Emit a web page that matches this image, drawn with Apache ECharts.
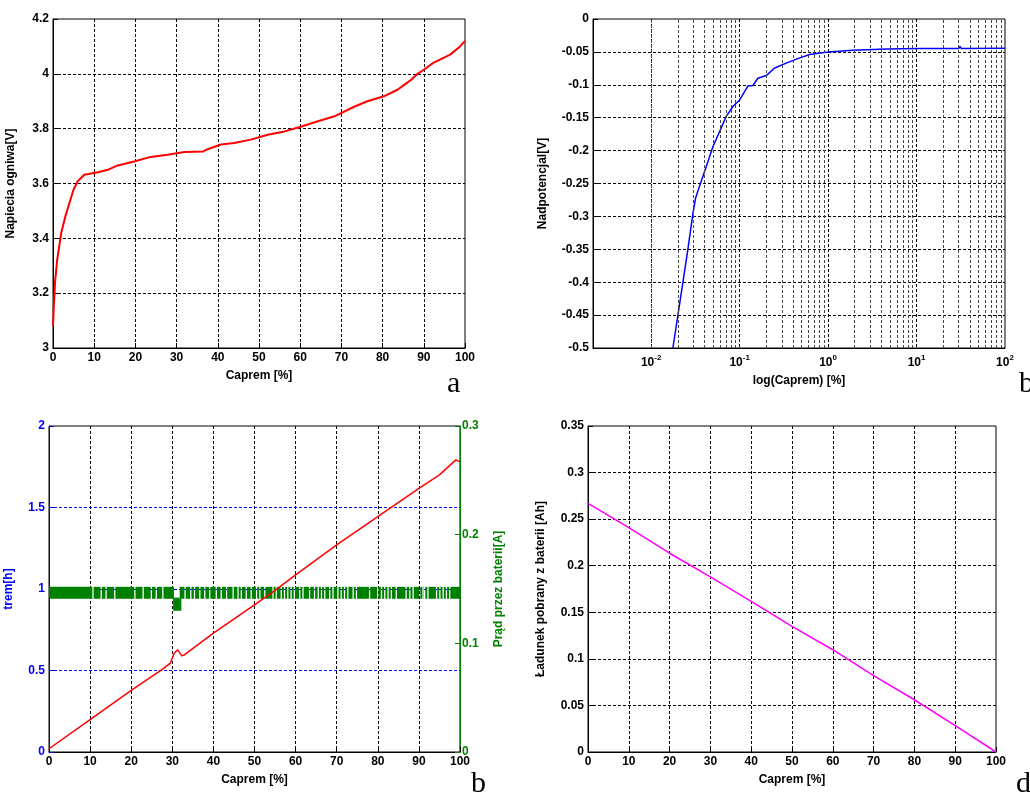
<!DOCTYPE html>
<html>
<head>
    <meta charset="UTF-8">
    <title>Caprem</title>
    <script src="https://cdn.jsdelivr.net/npm/echarts@6/dist/echarts.min.js"></script>
    <style>
        body, html {
            margin: 0;
            padding: 0;
            height: 100%;
            width: 100%;
            background: #fff;
        }
        #main {
            width: 1030px;
            height: 800px;
        }
    </style>
</head>
<body>
<div id="main"></div>
<script>
    // a: napiecie ogniwa vs Caprem
    var aX = [0, 0.2, 0.5, 1, 2, 3, 4, 5, 6, 7.6, 10.9, 13.3, 15.7, 19.7, 23.7, 27.8, 31.9, 36.5, 37.5, 40.8, 44, 48, 52.1, 56.2, 60.3, 64.3, 68.3, 73.1, 76.3, 80.3, 83.6, 85, 87, 88.5, 90, 92.3, 96.4, 98.8, 100];
    var aV = [3.08, 3.15, 3.24, 3.32, 3.42, 3.48, 3.53, 3.578, 3.608, 3.632, 3.641, 3.65, 3.666, 3.68, 3.697, 3.705, 3.715, 3.717, 3.725, 3.742, 3.748, 3.76, 3.778, 3.79, 3.808, 3.827, 3.845, 3.88, 3.9, 3.918, 3.942, 3.957, 3.979, 4.0, 4.015, 4.04, 4.07, 4.1, 4.12];

    // b: nadpotencjal vs log(Caprem)
    var bX = [0.0176, 0.0228, 0.026, 0.0297, 0.0318, 0.0352, 0.042, 0.0499, 0.0594, 0.0706, 0.084, 0.1, 0.124, 0.1415, 0.161, 0.2, 0.249, 0.337, 0.438, 0.62, 1, 1.92, 4.57, 10.9, 30, 31, 32, 100];
    var bV = [-0.5, -0.401, -0.35, -0.295, -0.272, -0.254, -0.224, -0.194, -0.171, -0.148, -0.133, -0.123, -0.102, -0.101, -0.09, -0.086, -0.0745, -0.067, -0.061, -0.054, -0.05, -0.0476, -0.0456, -0.045, -0.0448, -0.0415, -0.0448, -0.0446];
    var bMinorGrid = [0.003, 0.004, 0.005, 0.006, 0.007, 0.008, 0.009,
        0.02, 0.03, 0.04, 0.05, 0.06, 0.07, 0.08, 0.09,
        0.2, 0.3, 0.4, 0.5, 0.6, 0.7, 0.8, 0.9,
        2, 3, 4, 5, 6, 7, 8, 9,
        20, 30, 40, 50, 60, 70, 80, 90];

    // c: trem vs Caprem, prad przez baterii
    var cX = [0, 10, 20, 28, 29.5, 30.5, 31.3, 32.3, 33, 40, 50, 55, 60, 70, 80, 90, 95, 99, 100];
    var cT = [0.02, 0.198, 0.378, 0.515, 0.545, 0.607, 0.627, 0.59, 0.597, 0.729, 0.903, 0.991, 1.087, 1.271, 1.444, 1.618, 1.70, 1.792, 1.78];
    var cGridT = [0.5, 1, 1.5];
    var iLow = 0.141, iHigh = 0.152, iDipLow = 0.130;
    var iDip = [30.2, 32.2];
    var iGaps = [10.7, 12.7, 13.9, 16.0, 20.9, 22.9, 24.9, 26.1, 27.7, 33.1,
        34.5, 35.4, 36.7, 37.9, 39.1, 40.7, 41.9, 43.2, 44.8, 46.0, 46.8, 48.0, 49.2, 50.5, 51.3, 52.5,
        54.5, 55.3, 56.5, 57.3, 58.1, 58.9, 59.7, 61.0, 61.8, 63.4, 64.6, 65.5, 66.3, 67.1, 68.3,
        69.1, 70.3, 71.1, 71.9, 72.7, 74.0, 74.8, 78.0, 80.0, 80.9, 81.7, 82.5, 83.3, 84.5, 86.9,
        87.8, 88.6, 90.2, 91.0, 91.4, 92.2, 94.3, 95.1, 95.9, 96.7, 97.5];
    var iGapUpper = [30.4, 31.8];

    // d: ladunek pobrany vs Caprem
    var dX = [0, 10, 20, 30, 40, 50, 60, 70, 80, 90, 100];
    var dQ = [0.267, 0.241, 0.2134, 0.188, 0.1616, 0.1348, 0.1098, 0.0819, 0.0561, 0.0282, 0];

    function zip(xs, ys) {
        return xs.map(function (x, i) { return [x, ys[i]]; });
    }

    // band segments between gaps: [x0, x1, low, high]
    var gapW = 0.3;
    var bandSegs = [];
    var prev = 0;
    iGaps.forEach(function (g) {
        bandSegs.push([prev, g - gapW / 2, iLow, iHigh]);
        prev = g + gapW / 2;
    });
    bandSegs.push([prev, 100, iLow, iHigh]);
    // upper gap above the dip: split the segment containing it
    var segsOut = [];
    bandSegs.forEach(function (s) {
        if (s[0] < iGapUpper[0] && s[1] > iGapUpper[1]) {
            segsOut.push([s[0], iGapUpper[0], iLow, iHigh]);
            segsOut.push([iGapUpper[0], iGapUpper[1], iLow, iLow + 0.0012]);
            segsOut.push([iGapUpper[1], s[1], iLow, iHigh]);
        } else {
            segsOut.push(s);
        }
    });
    segsOut.push([iDip[0], iDip[1], iDipLow, iLow]);

    var FONT = '"Liberation Sans", Arial, sans-serif';
    var dash = [3, 2];

    function baseLabel(color) {
        return {color: color || '#000', fontFamily: FONT, fontSize: 12, fontWeight: 'bold', margin: 4};
    }

    function valueX(grid, name) {
        return {
            type: 'value', gridIndex: grid, min: 0, max: 100, interval: 10,
            name: name, nameLocation: 'middle', nameGap: 22,
            nameTextStyle: {fontFamily: FONT, fontSize: 12, fontWeight: 'bold', color: '#000'},
            axisLine: {show: true, onZero: false, lineStyle: {color: '#000', width: 1}},
            axisTick: {show: true, inside: true, length: 5, lineStyle: {color: '#000'}},
            axisLabel: baseLabel(),
            splitLine: {show: true, showMinLine: false, showMaxLine: false, lineStyle: {color: '#000', type: dash, width: 1}}
        };
    }

    function valueY(grid, min, max, interval, name, gap, color, noSplit) {
        return {
            type: 'value', gridIndex: grid, min: min, max: max, interval: interval,
            name: name, nameLocation: 'middle', nameGap: gap,
            nameTextStyle: {fontFamily: FONT, fontSize: 12, fontWeight: 'bold', color: color || '#000'},
            axisLine: {show: true, onZero: false, lineStyle: {color: color || '#000', width: 1}},
            axisTick: {show: true, inside: true, length: 5, lineStyle: {color: color || '#000'}},
            axisLabel: baseLabel(color),
            splitLine: {show: !noSplit, showMinLine: false, showMaxLine: false, lineStyle: {color: '#000', type: dash, width: 1}}
        };
    }

    var chart = echarts.init(document.getElementById('main'), null, {renderer: 'canvas'});

    var option = {
        animation: false,
        backgroundColor: '#fff',
        grid: [
            {left: 53, top: 19, width: 412, height: 329, show: true, borderColor: '#000', borderWidth: 1},
            {left: 593, top: 19, width: 412, height: 329, show: true, borderColor: '#000', borderWidth: 1},
            {left: 49, top: 426, width: 411, height: 326, show: true, borderColor: '#000', borderWidth: 1},
            {left: 588, top: 426, width: 408, height: 326, show: true, borderColor: '#000', borderWidth: 1}
        ],
        xAxis: [
            valueX(0, 'Caprem [%]'),
            {
                type: 'log', gridIndex: 1, logBase: 10, min: 0.0022, max: 100,
                name: 'log(Caprem) [%]', nameLocation: 'middle', nameGap: 27,
                nameTextStyle: {fontFamily: FONT, fontSize: 12, fontWeight: 'bold', color: '#000'},
                axisLine: {show: true, onZero: false, lineStyle: {color: '#000', width: 1}},
                axisTick: {show: false},
                axisLabel: {
                    fontFamily: FONT, fontSize: 12, fontWeight: 'bold', color: '#000', margin: 6,
                    formatter: function (v) {
                        var e = Math.log10(v);
                        if (Math.abs(e - Math.round(e)) > 1e-6) return '';
                        return '{b|10}{s|' + Math.round(e) + '}';
                    },
                    rich: {
                        b: {fontFamily: FONT, fontSize: 12, fontWeight: 'bold', color: '#000'},
                        s: {fontFamily: FONT, fontSize: 8, fontWeight: 'bold', color: '#000', padding: [0, 0, 9, 0]}
                    }
                },
                splitLine: {show: true, showMaxLine: false, lineStyle: {color: '#000', type: dash, width: 1}}
            },
            valueX(2, 'Caprem [%]'),
            valueX(3, 'Caprem [%]')
        ],
        yAxis: [
            valueY(0, 3, 4.2, 0.2, 'Napiecia ogniwa[V]', 36),
            valueY(1, -0.5, 0, 0.05, 'Nadpotencjal[V]', 44),
            valueY(2, 0, 2, 0.5, 'trem[h]', 34, '#0000ff', true),
            {
                type: 'value', gridIndex: 2, position: 'right', min: 0, max: 0.3, interval: 0.1,
                name: 'Prąd przez baterii[A]', nameLocation: 'middle', nameGap: 33, nameRotate: 90,
                nameTextStyle: {fontFamily: FONT, fontSize: 12, fontWeight: 'bold', color: '#008000'},
                axisLine: {show: true, onZero: false, lineStyle: {color: '#008000', width: 1}},
                axisTick: {show: true, inside: true, length: 5, lineStyle: {color: '#008000'}},
                axisLabel: {color: '#008000', fontFamily: FONT, fontSize: 12, fontWeight: 'bold', margin: 2},
                splitLine: {show: false}
            },
            valueY(3, 0, 0.35, 0.05, 'Ładunek pobrany z baterii [Ah]', 41)
        ],
        series: [
            {
                type: 'line', xAxisIndex: 0, yAxisIndex: 0, data: zip(aX, aV),
                showSymbol: false, lineStyle: {color: '#ff0000', width: 2}, z: 3
            },
            {
                type: 'line', xAxisIndex: 1, yAxisIndex: 1, data: zip(bX, bV),
                showSymbol: false, lineStyle: {color: '#0000ff', width: 1.5}, z: 3,
                markLine: {
                    silent: true, symbol: 'none', label: {show: false},
                    lineStyle: {color: '#444', type: dash, width: 1},
                    data: bMinorGrid.map(function (v) { return {xAxis: v}; })
                }
            },
            {
                type: 'custom', xAxisIndex: 2, yAxisIndex: 3, data: segsOut,
                encode: {x: [0, 1], y: [2, 3]}, z: 2,
                renderItem: function (params, api) {
                    var p0 = api.coord([api.value(0), api.value(3)]);
                    var p1 = api.coord([api.value(1), api.value(2)]);
                    return {
                        type: 'rect',
                        shape: {x: p0[0], y: p0[1], width: p1[0] - p0[0], height: p1[1] - p0[1]},
                        style: {fill: '#008000'}
                    };
                }
            },
            {
                type: 'line', xAxisIndex: 2, yAxisIndex: 2, data: zip(cX, cT),
                showSymbol: false, lineStyle: {color: '#ff0000', width: 1.5}, z: 4,
                markLine: {
                    silent: true, symbol: 'none', label: {show: false}, z: 1,
                    lineStyle: {color: '#0000ff', type: dash, width: 1},
                    data: cGridT.map(function (v) { return {yAxis: v}; })
                }
            },
            {
                type: 'line', xAxisIndex: 3, yAxisIndex: 4, data: zip(dX, dQ),
                showSymbol: false, lineStyle: {color: '#ff00ff', width: 1.5}, z: 3
            }
        ],
        graphic: [
            {type: 'text', x: 447, y: 399, style: {text: 'a', font: '30px "Liberation Serif", serif', fill: '#000', verticalAlign: 'bottom'}},
            {type: 'text', x: 1019, y: 399, style: {text: 'b', font: '30px "Liberation Serif", serif', fill: '#000', verticalAlign: 'bottom'}},
            {type: 'text', x: 471, y: 799, style: {text: 'b', font: '30px "Liberation Serif", serif', fill: '#000', verticalAlign: 'bottom'}},
            {type: 'text', x: 1016, y: 799, style: {text: 'd', font: '30px "Liberation Serif", serif', fill: '#000', verticalAlign: 'bottom'}}
        ]
    };

    chart.setOption(option);
</script>
</body>
</html>
